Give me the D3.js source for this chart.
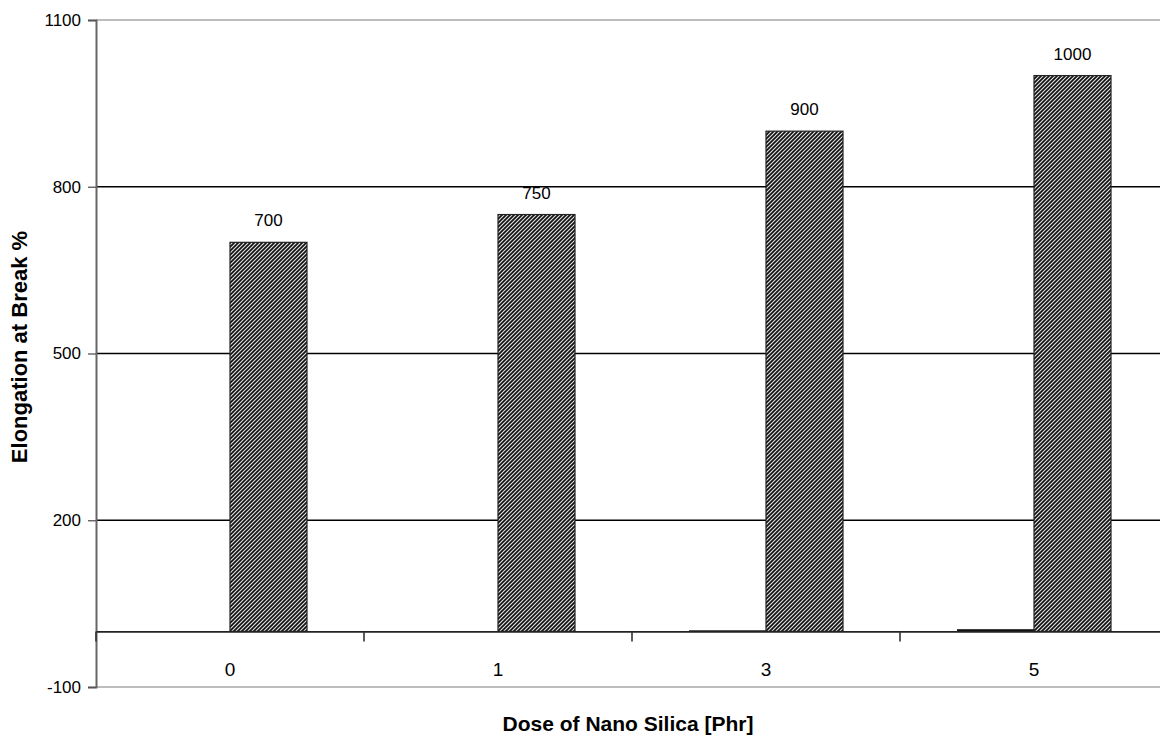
<!DOCTYPE html>
<html><head><meta charset="utf-8">
<script src="https://cdn.jsdelivr.net/npm/d3@7"></script>
<style>body{margin:0;background:#fff;}svg{display:block;font-family:Arial,"Liberation Sans",sans-serif;}</style>
</head><body>
<svg id="c" width="1160" height="740"></svg>
<script>
const categories = ["0", "1", "3", "5"];
const seriesA = [0, 0, 2, 4];
const seriesB = [700, 750, 900, 1000];
const yTicks = [-100, 200, 500, 800, 1100];

const svg = d3.select("#c");
const mLeft = 96, mRight = 1168, mTop = 20, mBottom = 687;
const x = d3.scaleBand().domain(categories).range([mLeft, mRight]).padding(0);
const y = d3.scaleLinear().domain([-100, 1100]).range([mBottom, mTop]);
const barW = 77;
const xs = d3.scaleBand().domain(["A","B"]).range([0, barW*2]);
const FONT = "Arial, 'Liberation Sans', sans-serif";

const defs = svg.append("defs");
const pat = defs.append("pattern").attr("id","hatch").attr("patternUnits","userSpaceOnUse")
  .attr("width",4).attr("height",4);
pat.append("rect").attr("width",4).attr("height",4).attr("fill","#e4e4e4");
pat.append("path").attr("d","M-1,1 L1,-1 M0,4 L4,0 M3,5 L5,3").attr("stroke","#111").attr("stroke-width",1.7);

// grid lines
const isEdge = v => (v === 1100 || v === -100);
svg.append("g").selectAll("line").data(yTicks).join("line")
  .attr("x1", mLeft).attr("x2", 1160)
  .attr("y1", d => y(d)).attr("y2", d => y(d))
  .attr("stroke", d => isEdge(d) ? "#bdbdbd" : "#000")
  .attr("stroke-width", d => isEdge(d) ? 2.2 : 1.3);

// y axis
const yAxis = svg.append("g").attr("transform",`translate(${mLeft},0)`)
  .call(d3.axisLeft(y).tickValues(yTicks).tickSize(8).tickPadding(7).tickFormat(d => String(d)));
yAxis.select(".domain").attr("stroke","#666").attr("stroke-width",2);
yAxis.selectAll(".tick line").attr("stroke","#555").attr("stroke-width",1.3);
yAxis.selectAll(".tick text").attr("font-size",17).attr("fill","#000").attr("font-family",FONT);

// bars
const groups = svg.append("g").selectAll("g").data(categories).join("g")
  .attr("transform", d => `translate(${x(d) + x.bandwidth()/2 - barW},0)`);
groups.append("rect")
  .attr("x", xs("A")).attr("width", barW)
  .attr("y", (d,i) => y(seriesA[i])).attr("height", (d,i) => y(0) - y(seriesA[i]))
  .attr("fill", "#111");
groups.append("rect")
  .attr("x", xs("B")).attr("width", barW)
  .attr("y", (d,i) => y(seriesB[i])).attr("height", (d,i) => y(0) - y(seriesB[i]))
  .attr("fill", "url(#hatch)").attr("stroke","#222").attr("stroke-width",1.2);
groups.append("text")
  .attr("x", xs("B") + barW/2).attr("y", (d,i) => y(seriesB[i]) - 16)
  .attr("text-anchor","middle").attr("font-size",17).attr("fill","#000").attr("font-family",FONT)
  .text((d,i) => seriesB[i]);

// x axis at zero
const xAxis = svg.append("g").attr("transform",`translate(0,${y(0)})`)
  .call(d3.axisBottom(x).tickSize(0).tickPadding(30));
xAxis.select(".domain").attr("stroke","#222").attr("stroke-width",1.6);
xAxis.selectAll(".tick text").attr("font-size",19).attr("fill","#000").attr("font-family",FONT)
  .attr("dy", null).attr("y", 45);
svg.append("g").selectAll("line").data(categories).join("line")
  .attr("x1", d => x(d)).attr("x2", d => x(d))
  .attr("y1", y(0)).attr("y2", y(0) + 10)
  .attr("stroke","#333").attr("stroke-width",1.6);

// titles
svg.append("text").attr("transform","translate(27,347) rotate(-90)")
  .attr("text-anchor","middle").attr("font-weight","bold").attr("font-size",22)
  .attr("font-family",FONT)
  .text("Elongation at Break %");
svg.append("text").attr("x",628).attr("y",731)
  .attr("text-anchor","middle").attr("font-weight","bold").attr("font-size",21)
  .attr("font-family",FONT)
  .text("Dose of Nano Silica [Phr]");
</script>
</body></html>
